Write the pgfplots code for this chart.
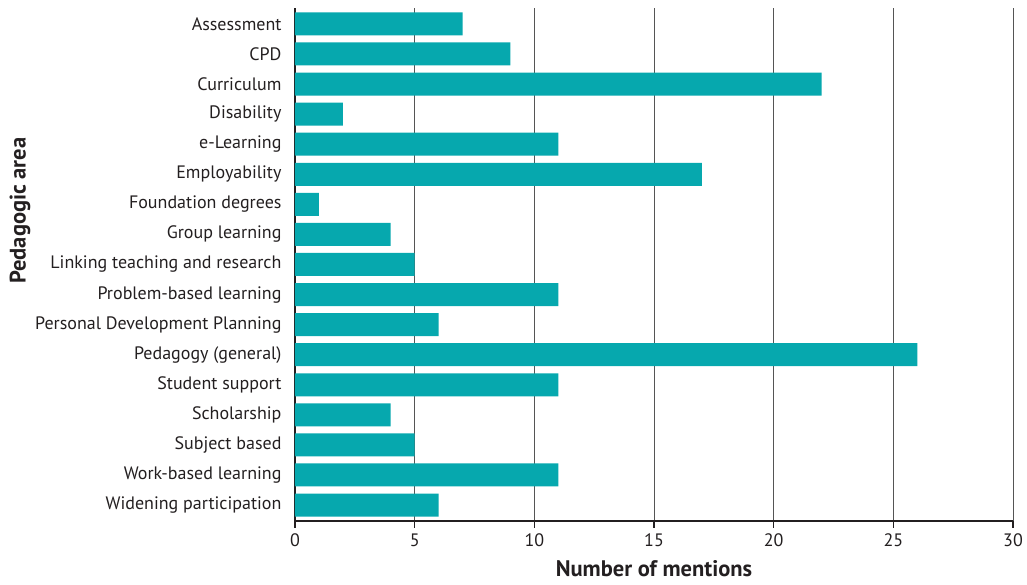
\documentclass[border=0pt]{standalone}
\usepackage{pgfplots}
\pgfplotsset{compat=1.18}
\usepackage{fontspec}
\setmainfont{PT Sans}
\definecolor{barteal}{HTML}{06A8AE}
\definecolor{txt}{HTML}{231F20}
\definecolor{gridc}{HTML}{555555}

% mentions per area, listed bottom (0) to top (16)
\pgfplotstableread{
pos count
16 7
15 9
14 22
13 2
12 11
11 17
10 1
9 4
8 5
7 11
6 6
5 26
4 11
3 4
2 5
1 11
0 6
}\mentions

\begin{document}
\begin{tikzpicture}
\begin{axis}[
    scale only axis,
    width=718pt, height=513pt,
    xbar, bar width=23pt,
    xmin=0, xmax=30, xtick={0,5,...,30},
    ymin=-0.53, ymax=16.53,
    ytick={0,...,16},
    yticklabels={Widening participation, Work-based learning, Subject based,
        Scholarship, Student support, Pedagogy (general),
        Personal Development Planning, Problem-based learning,
        Linking teaching and research, Group learning, Foundation degrees,
        Employability, e-Learning, Disability, Curriculum, CPD, Assessment},
    axis x line*=bottom, axis y line*=left,
    axis line style={color=txt, line width=1.3pt},
    xmajorgrids,
    grid style={color=gridc, line width=1pt},
    tick align=outside,
    x tick style={color=txt, line width=1.2pt},
    major tick length=7pt,
    y tick style={draw=none},
    /pgf/number format/assume math mode=true,
    tick label style={font=\fontsize{18}{21}\selectfont, text=txt},
    xticklabel style={yshift=-2pt},
    yticklabel style={xshift=-3pt},
    xlabel={Number of mentions},
    ylabel={Pedagogic area},
    label style={font=\fontsize{22.5}{26}\selectfont\bfseries, text=txt},
    xlabel style={at={(axis description cs:0.5,-0.092)}, anchor=center},
    ylabel style={at={(axis description cs:-0.383,0.605)}, anchor=center},
]
\addplot[fill=barteal, draw=none] table[x=count, y=pos] {\mentions};
\end{axis}
\pgfresetboundingbox
\path[use as bounding box] (-295pt,-64pt) rectangle (732pt,521pt);
\end{tikzpicture}
\end{document}
